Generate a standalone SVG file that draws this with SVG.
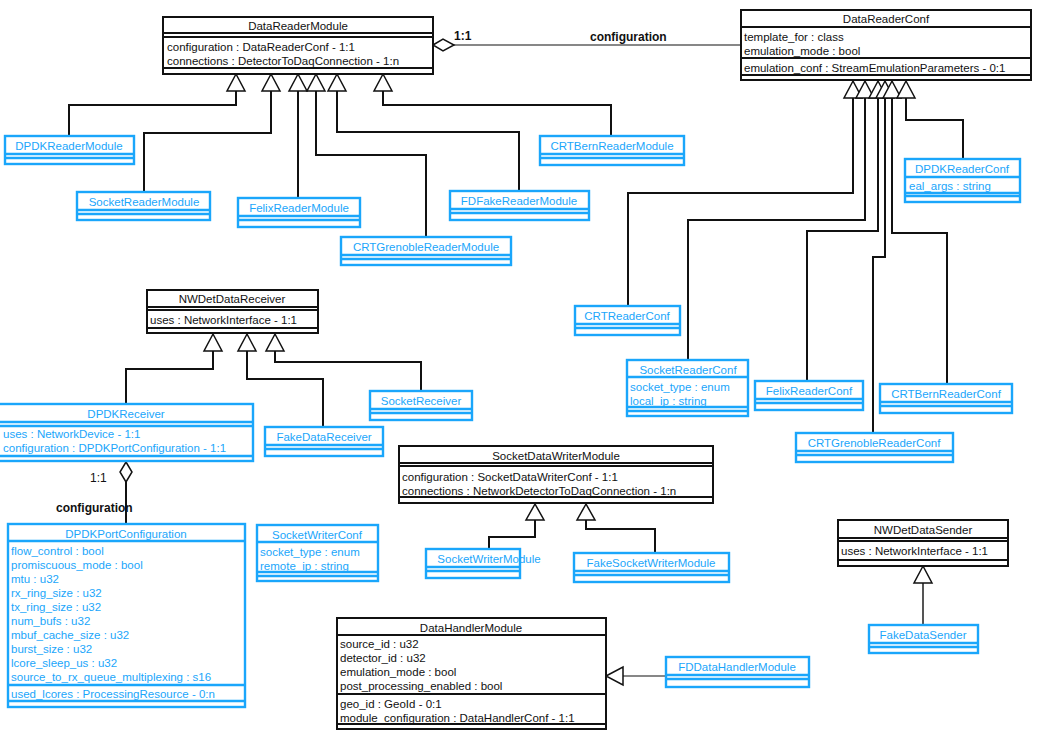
<svg xmlns="http://www.w3.org/2000/svg" width="1038" height="736" viewBox="0 0 1038 736">
<style>
text{font-family:"Liberation Sans",Arial,sans-serif;font-size:11.5px}
.k rect,.k line{stroke:#111;stroke-width:2;fill:#fff}
.b rect,.b line{stroke:#1aa6fb;stroke-width:2.4;fill:#fff}
.k text{fill:#111}
.b text{fill:#1aa6fb}
.c{text-anchor:middle}
.w{fill:none;stroke:#111;stroke-width:2}
.t{fill:#fff;stroke:#111;stroke-width:1.5}
.lb{font-weight:bold;fill:#111;font-size:12px}
</style>
<g id="connectors">
<polyline class="w" points="236,91 236,105 69,105 69,136"/>
<polyline class="w" points="271,91 271,133 144,133 144,192"/>
<polyline class="w" points="298,91 298,198"/>
<polyline class="w" points="316,91 316,155 426,155 426,237"/>
<polyline class="w" points="337,91 337,132 519,132 519,191"/>
<polyline class="w" points="383,91 383,105 611,105 611,136"/>
<polygon class="t" points="236,74 227,91 245,91"/>
<polygon class="t" points="271,74 262,91 280,91"/>
<polygon class="t" points="298,74 289,91 307,91"/>
<polygon class="t" points="316,74 307,91 325,91"/>
<polygon class="t" points="337,74 328,91 346,91"/>
<polygon class="t" points="383,74 374,91 392,91"/>
<line x1="454" y1="45" x2="741" y2="45" stroke="#111" stroke-width="1.2"/>
<polygon class="t" points="433,45 443,39 454,45 443,51"/>
<text x="454" y="40" class="lb">1:1</text>
<text x="590" y="41" class="lb">configuration</text>
<polyline class="w" points="853,98 853,193 628,193 628,306"/>
<polyline class="w" points="865,98 865,220 688,220 688,360" stroke-width="1.5"/>
<polyline class="w" points="878,98 878,231 807,231 807,381"/>
<polyline class="w" points="885,98 885,257 873,257 873,433"/>
<polyline class="w" points="892,98 892,233 947,233 947,384"/>
<polyline class="w" points="906,98 906,120 963,120 963,159"/>
<polygon class="t" points="853,81 844,98 862,98"/>
<polygon class="t" points="865,81 856,98 874,98"/>
<polygon class="t" points="878,81 869,98 887,98"/>
<polygon class="t" points="885,81 876,98 894,98"/>
<polygon class="t" points="892,81 883,98 901,98"/>
<polygon class="t" points="906,81 897,98 915,98"/>
<polyline class="w" points="213,351 213,369 126,369 126,404"/>
<polyline class="w" points="247,351 247,379 323,379 323,427"/>
<polyline class="w" points="275,351 275,362 421,362 421,391"/>
<polygon class="t" points="213,334 204,351 222,351"/>
<polygon class="t" points="247,334 238,351 256,351"/>
<polygon class="t" points="275,334 266,351 284,351"/>
<line x1="126" y1="482" x2="126" y2="524" stroke="#111" stroke-width="2"/>
<polygon class="t" points="126,462 132,472 126,482 120,472"/>
<text x="90" y="482" fill="#111" style="font-size:12px">1:1</text>
<text x="56" y="512" class="lb">configuration</text>
<polyline class="w" points="535,520 535,537 489,537 489,549"/>
<polyline class="w" points="586,520 586,529 655,529 655,553"/>
<polygon class="t" points="535,504 526,520 544,520"/>
<polygon class="t" points="586,504 577,520 595,520"/>
<line x1="923" y1="583" x2="923" y2="625" stroke="#555" stroke-width="2"/>
<polygon class="t" points="923,566 914,583 932,583"/>
<line x1="623" y1="676" x2="666" y2="676" stroke="#111" stroke-width="1.2"/>
<polygon class="t" points="606,676 623,667 623,685"/>
</g>

<g id="DataReaderModule" class="k">
<rect x="163" y="17" width="270" height="57"/>
<line x1="163" y1="33" x2="433" y2="33"/><line x1="163" y1="37" x2="433" y2="37"/><line x1="163" y1="68" x2="433" y2="68"/>
<text x="298" y="30" class="c">DataReaderModule</text>
<text x="167" y="51">configuration : DataReaderConf - 1:1</text>
<text x="167" y="65">connections : DetectorToDaqConnection - 1:n</text>
</g>
<g id="DataReaderConf" class="k">
<rect x="741" y="10" width="290" height="70"/>
<line x1="741" y1="27" x2="1031" y2="27"/><line x1="741" y1="58" x2="1031" y2="58"/><line x1="741" y1="75" x2="1031" y2="75"/>
<text x="886" y="23" class="c">DataReaderConf</text>
<text x="744" y="41">template_for : class</text>
<text x="744" y="55">emulation_mode : bool</text>
<text x="744" y="72">emulation_conf : StreamEmulationParameters - 0:1</text>
</g>

<g id="DPDKReaderModule" class="b"><rect x="5" y="136" width="129" height="28"/><line x1="5" y1="154" x2="134" y2="154"/><line x1="5" y1="158" x2="134" y2="158"/><text x="69" y="150" class="c">DPDKReaderModule</text></g>
<g id="SocketReaderModule" class="b"><rect x="77" y="192" width="133" height="28"/><line x1="77" y1="210" x2="210" y2="210"/><line x1="77" y1="214" x2="210" y2="214"/><text x="144" y="206" class="c">SocketReaderModule</text></g>
<g id="FelixReaderModule" class="b"><rect x="238" y="198" width="122" height="29"/><line x1="238" y1="216" x2="360" y2="216"/><line x1="238" y1="220" x2="360" y2="220"/><text x="299" y="212" class="c">FelixReaderModule</text></g>
<g id="CRTGrenobleReaderModule" class="b"><rect x="341" y="237" width="170" height="28"/><line x1="341" y1="255" x2="511" y2="255"/><line x1="341" y1="259" x2="511" y2="259"/><text x="426" y="251" class="c">CRTGrenobleReaderModule</text></g>
<g id="FDFakeReaderModule" class="b"><rect x="450" y="191" width="139" height="29"/><line x1="450" y1="209" x2="589" y2="209"/><line x1="450" y1="213" x2="589" y2="213"/><text x="519" y="205" class="c">FDFakeReaderModule</text></g>
<g id="CRTBernReaderModule" class="b"><rect x="540" y="136" width="144" height="29"/><line x1="540" y1="154" x2="684" y2="154"/><line x1="540" y1="158" x2="684" y2="158"/><text x="612" y="150" class="c">CRTBernReaderModule</text></g>

<g id="DPDKReaderConf" class="b"><rect x="905" y="159" width="115" height="43"/><line x1="905" y1="177" x2="1020" y2="177"/><line x1="905" y1="193" x2="1020" y2="193"/><line x1="905" y1="196" x2="1020" y2="196"/><text x="962" y="173" class="c">DPDKReaderConf</text><text x="909" y="190">eal_args : string</text></g>
<g id="CRTReaderConf" class="b"><rect x="575" y="306" width="105" height="29"/><line x1="575" y1="324" x2="680" y2="324"/><line x1="575" y1="328" x2="680" y2="328"/><text x="627" y="320" class="c">CRTReaderConf</text></g>
<g id="SocketReaderConf" class="b"><rect x="627" y="360" width="121" height="56"/><line x1="627" y1="377" x2="748" y2="377"/><line x1="627" y1="407" x2="748" y2="407"/><line x1="627" y1="411" x2="748" y2="411"/><text x="688" y="374" class="c">SocketReaderConf</text><text x="630" y="391">socket_type : enum</text><text x="630" y="405">local_ip : string</text></g>
<g id="FelixReaderConf" class="b"><rect x="755" y="381" width="108" height="29"/><line x1="755" y1="399" x2="863" y2="399"/><line x1="755" y1="403" x2="863" y2="403"/><text x="809" y="395" class="c">FelixReaderConf</text></g>
<g id="CRTBernReaderConf" class="b"><rect x="880" y="384" width="132" height="29"/><line x1="880" y1="402" x2="1012" y2="402"/><line x1="880" y1="406" x2="1012" y2="406"/><text x="946" y="398" class="c">CRTBernReaderConf</text></g>
<g id="CRTGrenobleReaderConf" class="b"><rect x="796" y="433" width="157" height="29"/><line x1="796" y1="451" x2="953" y2="451"/><line x1="796" y1="455" x2="953" y2="455"/><text x="874" y="447" class="c">CRTGrenobleReaderConf</text></g>

<g id="NWDetDataReceiver" class="k"><rect x="147" y="290" width="171" height="43"/><line x1="147" y1="307" x2="318" y2="307"/><line x1="147" y1="310" x2="318" y2="310"/><line x1="147" y1="328" x2="318" y2="328"/><text x="232" y="303" class="c">NWDetDataReceiver</text><text x="150" y="324">uses : NetworkInterface - 1:1</text></g>
<g id="DPDKReceiver" class="b"><rect x="-2" y="404" width="255" height="57"/><line x1="-2" y1="422" x2="253" y2="422"/><line x1="-2" y1="426" x2="253" y2="426"/><line x1="-2" y1="456" x2="253" y2="456"/><text x="126" y="418" class="c">DPDKReceiver</text><text x="3" y="438">uses : NetworkDevice - 1:1</text><text x="3" y="452">configuration : DPDKPortConfiguration - 1:1</text></g>
<g id="FakeDataReceiver" class="b"><rect x="265" y="427" width="118" height="29"/><line x1="265" y1="445" x2="383" y2="445"/><line x1="265" y1="449" x2="383" y2="449"/><text x="324" y="441" class="c">FakeDataReceiver</text></g>
<g id="SocketReceiver" class="b"><rect x="370" y="391" width="102" height="29"/><line x1="370" y1="409" x2="472" y2="409"/><line x1="370" y1="413" x2="472" y2="413"/><text x="421" y="405" class="c">SocketReceiver</text></g>

<g id="DPDKPortConfiguration" class="b"><rect x="8" y="524" width="237" height="183"/><line x1="8" y1="541" x2="245" y2="541"/><line x1="8" y1="685" x2="245" y2="685"/><line x1="8" y1="701" x2="245" y2="701"/>
<text x="126" y="538" class="c">DPDKPortConfiguration</text>
<text x="11" y="555">flow_control : bool</text><text x="11" y="569">promiscuous_mode : bool</text><text x="11" y="583">mtu : u32</text><text x="11" y="597">rx_ring_size : u32</text><text x="11" y="611">tx_ring_size : u32</text><text x="11" y="625">num_bufs : u32</text><text x="11" y="639">mbuf_cache_size : u32</text><text x="11" y="653">burst_size : u32</text><text x="11" y="667">lcore_sleep_us : u32</text><text x="11" y="681">source_to_rx_queue_multiplexing : s16</text><text x="11" y="698">used_lcores : ProcessingResource - 0:n</text></g>
<g id="SocketWriterConf" class="b"><rect x="257" y="525" width="121" height="56"/><line x1="257" y1="542" x2="378" y2="542"/><line x1="257" y1="572" x2="378" y2="572"/><line x1="257" y1="576" x2="378" y2="576"/><text x="317" y="539" class="c">SocketWriterConf</text><text x="260" y="556">socket_type : enum</text><text x="260" y="570">remote_ip : string</text></g>

<g id="SocketDataWriterModule" class="k"><rect x="399" y="446" width="314" height="57"/><line x1="399" y1="463" x2="713" y2="463"/><line x1="399" y1="466" x2="713" y2="466"/><line x1="399" y1="497" x2="713" y2="497"/><text x="556" y="460" class="c">SocketDataWriterModule</text><text x="402" y="481">configuration : SocketDataWriterConf - 1:1</text><text x="402" y="495">connections : NetworkDetectorToDaqConnection - 1:n</text></g>
<g id="SocketWriterModule" class="b"><rect x="426" y="549" width="94" height="29"/><line x1="426" y1="567" x2="520" y2="567"/><line x1="426" y1="571" x2="520" y2="571"/><text x="489" y="563" class="c">SocketWriterModule</text></g>
<g id="FakeSocketWriterModule" class="b"><rect x="574" y="553" width="155" height="29"/><line x1="574" y1="571" x2="729" y2="571"/><line x1="574" y1="575" x2="729" y2="575"/><text x="651" y="567" class="c">FakeSocketWriterModule</text></g>

<g id="NWDetDataSender" class="k"><rect x="838" y="520" width="170" height="46"/><line x1="838" y1="538" x2="1008" y2="538"/><line x1="838" y1="541" x2="1008" y2="541"/><line x1="838" y1="560" x2="1008" y2="560"/><text x="923" y="534" class="c">NWDetDataSender</text><text x="841" y="555">uses : NetworkInterface - 1:1</text></g>
<g id="FakeDataSender" class="b"><rect x="869" y="625" width="109" height="28"/><line x1="869" y1="643" x2="978" y2="643"/><line x1="869" y1="647" x2="978" y2="647"/><text x="923" y="639" class="c">FakeDataSender</text></g>

<g id="DataHandlerModule" class="k"><rect x="337" y="618" width="269" height="111"/><line x1="337" y1="635" x2="606" y2="635"/><line x1="337" y1="694" x2="606" y2="694"/><line x1="337" y1="724" x2="606" y2="724"/>
<text x="471" y="632" class="c">DataHandlerModule</text>
<text x="340" y="648">source_id : u32</text><text x="340" y="662">detector_id : u32</text><text x="340" y="676">emulation_mode : bool</text><text x="340" y="690">post_processing_enabled : bool</text><text x="340" y="708">geo_id : GeoId - 0:1</text><text x="340" y="722">module_configuration : DataHandlerConf - 1:1</text></g>
<g id="FDDataHandlerModule" class="b"><rect x="666" y="657" width="143" height="30"/><line x1="666" y1="675" x2="809" y2="675"/><line x1="666" y1="679" x2="809" y2="679"/><text x="737" y="671" class="c">FDDataHandlerModule</text></g>
</svg>
